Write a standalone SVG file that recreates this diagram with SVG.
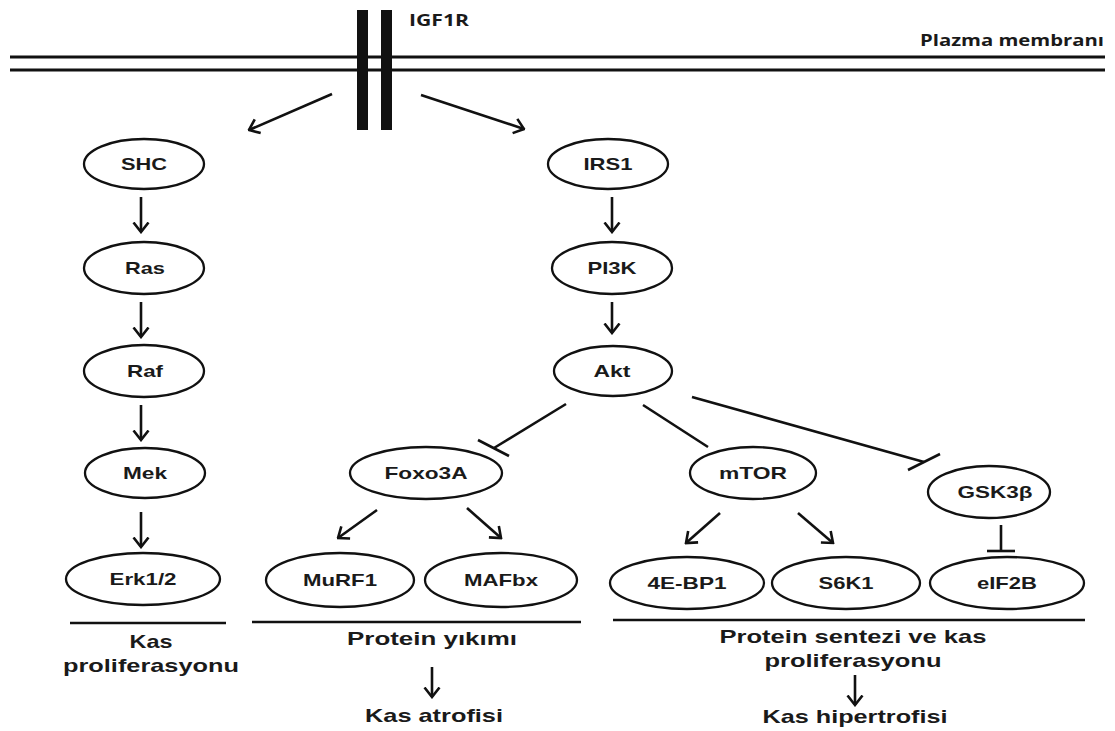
<svg xmlns="http://www.w3.org/2000/svg" width="1115" height="731" viewBox="0 0 1115 731">
<defs>
<marker id="arr" viewBox="0 0 12 18" refX="10.5" refY="9" markerWidth="12" markerHeight="18" markerUnits="userSpaceOnUse" orient="auto">
<path d="M1,1.5 L10.5,9 L1,16.5" fill="none" stroke="#111" stroke-width="2.6" stroke-linejoin="miter"/>
</marker>
</defs>
<style>
.n{fill:#fff;stroke:#111;stroke-width:2.3}
.t{font-family:"Liberation Sans",Arial,sans-serif;font-weight:bold;font-size:17px;fill:#1a1a1a;text-anchor:middle}
.b{font-family:"Liberation Sans",Arial,sans-serif;font-weight:bold;font-size:19px;fill:#1a1a1a;text-anchor:middle}
.m{font-family:"Open Sans","Liberation Sans",sans-serif;font-weight:bold;font-size:16px;fill:#1a1a1a}
.c{stroke:#111;stroke-width:2.6;fill:none}
.a{stroke:#111;stroke-width:2.6;fill:none;marker-end:url(#arr)}
</style>
<rect width="1115" height="731" fill="#fff"/>
<g id="membrane">
<line x1="10" y1="57" x2="1105" y2="57" stroke="#111" stroke-width="3"/>
<line x1="10" y1="70" x2="1105" y2="70" stroke="#111" stroke-width="3"/>
<text class="m" x="920" y="46" textLength="184" lengthAdjust="spacingAndGlyphs">Plazma membranı</text>
</g>
<g id="IGF1R">
<rect x="357" y="10" width="11" height="120" fill="#111"/>
<rect x="381" y="10" width="11" height="120" fill="#111"/>
<text class="m" x="409" y="26" textLength="60" lengthAdjust="spacingAndGlyphs">IGF1R</text>
</g>
<g id="connectors">
<line class="a" x1="332" y1="94" x2="249" y2="130"/>
<line class="a" x1="421" y1="95" x2="524" y2="129"/>
<line class="a" x1="141" y1="197" x2="141" y2="232"/>
<line class="a" x1="141" y1="302" x2="141" y2="337"/>
<line class="a" x1="141" y1="405" x2="141" y2="440"/>
<line class="a" x1="141" y1="512" x2="141" y2="547"/>
<line class="a" x1="612" y1="197" x2="612" y2="232"/>
<line class="a" x1="612" y1="302" x2="612" y2="333"/>
<line class="c" x1="566" y1="404" x2="494" y2="448"/>
<line class="c" x1="478" y1="440" x2="509" y2="456"/>
<line class="c" x1="643" y1="405" x2="708" y2="447"/>
<line class="c" x1="692" y1="397" x2="924" y2="462"/>
<line class="c" x1="908" y1="470" x2="940" y2="454"/>
<line class="c" x1="1001" y1="525" x2="1001" y2="551"/>
<line class="c" x1="987" y1="551" x2="1015" y2="551"/>
<line class="a" x1="377" y1="510" x2="338" y2="538"/>
<line class="a" x1="467" y1="508" x2="501" y2="538"/>
<line class="a" x1="720" y1="513" x2="686" y2="543"/>
<line class="a" x1="798" y1="513" x2="833" y2="543"/>
<line class="a" x1="432" y1="667" x2="432" y2="697"/>
<line class="a" x1="855" y1="675" x2="855" y2="705"/>
</g>
<g id="SHC"><ellipse class="n" cx="144" cy="164" rx="60" ry="25"/><text class="t" x="144" y="170" textLength="46" lengthAdjust="spacingAndGlyphs">SHC</text></g>
<g id="Ras"><ellipse class="n" cx="144" cy="268" rx="60" ry="26"/><text class="t" x="145" y="274" textLength="40" lengthAdjust="spacingAndGlyphs">Ras</text></g>
<g id="Raf"><ellipse class="n" cx="144" cy="371" rx="60" ry="26"/><text class="t" x="145" y="377" textLength="36" lengthAdjust="spacingAndGlyphs">Raf</text></g>
<g id="Mek"><ellipse class="n" cx="145" cy="473" rx="60" ry="25"/><text class="t" x="145" y="479" textLength="44" lengthAdjust="spacingAndGlyphs">Mek</text></g>
<g id="Erk12"><ellipse class="n" cx="143" cy="579" rx="77" ry="26"/><text class="t" x="143" y="585" textLength="67" lengthAdjust="spacingAndGlyphs">Erk1/2</text></g>
<g id="IRS1"><ellipse class="n" cx="608" cy="164" rx="60" ry="25"/><text class="t" x="608" y="170" textLength="49" lengthAdjust="spacingAndGlyphs">IRS1</text></g>
<g id="PI3K"><ellipse class="n" cx="612" cy="268" rx="60" ry="26"/><text class="t" x="612" y="274" textLength="49" lengthAdjust="spacingAndGlyphs">PI3K</text></g>
<g id="Akt"><ellipse class="n" cx="613" cy="371" rx="59" ry="25"/><text class="t" x="612" y="377" textLength="37" lengthAdjust="spacingAndGlyphs">Akt</text></g>
<g id="Foxo3A"><ellipse class="n" cx="426" cy="473" rx="76" ry="26"/><text class="t" x="426" y="479" textLength="83" lengthAdjust="spacingAndGlyphs">Foxo3A</text></g>
<g id="mTOR"><ellipse class="n" cx="753" cy="473" rx="63" ry="26"/><text class="t" x="753" y="479" textLength="68" lengthAdjust="spacingAndGlyphs">mTOR</text></g>
<g id="GSK3b"><ellipse class="n" cx="989" cy="492" rx="61" ry="26"/><text class="t" x="995" y="498" textLength="75" lengthAdjust="spacingAndGlyphs">GSK3β</text></g>
<g id="MuRF1"><ellipse class="n" cx="340" cy="580" rx="74" ry="27"/><text class="t" x="340" y="586" textLength="74" lengthAdjust="spacingAndGlyphs">MuRF1</text></g>
<g id="MAFbx"><ellipse class="n" cx="501" cy="580" rx="76" ry="27"/><text class="t" x="501" y="586" textLength="74" lengthAdjust="spacingAndGlyphs">MAFbx</text></g>
<g id="4EBP1"><ellipse class="n" cx="687" cy="583" rx="77" ry="26"/><text class="t" x="687" y="589" textLength="79" lengthAdjust="spacingAndGlyphs">4E-BP1</text></g>
<g id="S6K1"><ellipse class="n" cx="846" cy="583" rx="74" ry="26"/><text class="t" x="846" y="589" textLength="55" lengthAdjust="spacingAndGlyphs">S6K1</text></g>
<g id="eIF2B"><ellipse class="n" cx="1007" cy="583" rx="77" ry="26"/><text class="t" x="1007" y="589" textLength="60" lengthAdjust="spacingAndGlyphs">eIF2B</text></g>
<g id="outcome-left">
<line class="c" x1="70" y1="623" x2="226" y2="623"/>
<text class="b" x="151" y="648" textLength="43" lengthAdjust="spacingAndGlyphs">Kas</text>
<text class="b" x="151" y="672" textLength="176" lengthAdjust="spacingAndGlyphs">proliferasyonu</text>
</g>
<g id="outcome-middle">
<line class="c" x1="252" y1="622" x2="581" y2="622"/>
<text class="b" x="432" y="645" textLength="170" lengthAdjust="spacingAndGlyphs">Protein yıkımı</text>
<text class="b" x="434" y="722" textLength="138" lengthAdjust="spacingAndGlyphs">Kas atrofisi</text>
</g>
<g id="outcome-right">
<line class="c" x1="613" y1="620" x2="1085" y2="620"/>
<text class="b" x="853" y="643" textLength="267" lengthAdjust="spacingAndGlyphs">Protein sentezi ve kas</text>
<text class="b" x="853" y="667" textLength="177" lengthAdjust="spacingAndGlyphs">proliferasyonu</text>
<text class="b" x="855" y="723" textLength="185" lengthAdjust="spacingAndGlyphs">Kas hipertrofisi</text>
</g>
</svg>
